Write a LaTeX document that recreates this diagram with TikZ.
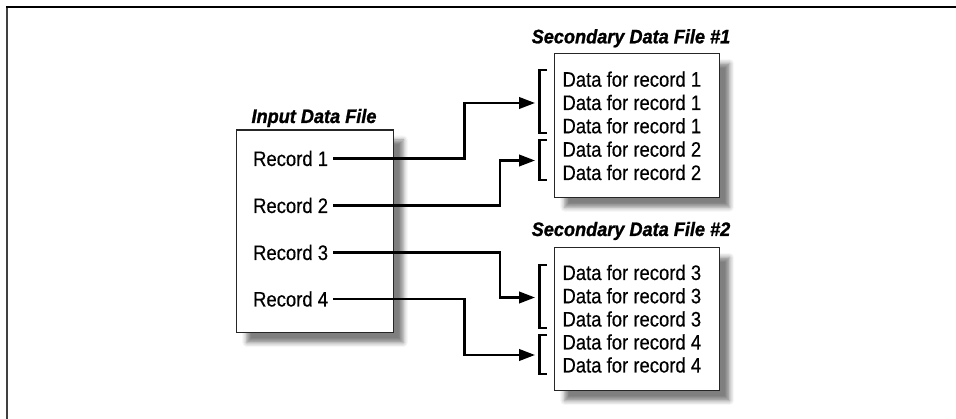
\documentclass[tikz,border=0pt]{standalone}
\usepackage{fontspec}
\setmainfont{Liberation Sans}
\newfontfamily\recfont[FakeStretch=0.88,FakeBold=0.4]{Liberation Sans}
\newfontfamily\ttlfont[FakeStretch=0.93,FakeBold=1.2]{Liberation Sans}
\usetikzlibrary{arrows.meta,shadows.blur}
\begin{document}
\begin{tikzpicture}[x=1pt,y=-1pt,
  filebox/.style={draw=black!85, line width=1.3pt, fill=white, inner sep=0pt, anchor=north west,
    blur shadow={shadow xshift=10pt, shadow yshift=-10pt, shadow blur radius=4.5pt, shadow opacity=50}},
  rectext/.style={font=\recfont\fontsize{21pt}{23pt}\selectfont, inner xsep=5pt, inner ysep=0pt, anchor=base east},
  datatext/.style={font=\recfont\fontsize{21pt}{23pt}\selectfont, inner sep=0pt, anchor=base west},
  ttltext/.style={font=\ttlfont\fontsize{19.5pt}{22pt}\selectfont\bfseries\itshape, inner sep=0pt, anchor=base},
  conn/.style={line width=2.4pt, -{Triangle[length=16pt,width=11.5pt]}},
  brk/.style={line width=2.4pt},
  frameline/.style={line width=2pt}]
\useasboundingbox (0,0) rectangle (956,419);
% frame
\draw[frameline, black!75] (7,419) -- (7,7);
\draw[frameline, black] (6,7) -- (956,7);
% boxes
\node[filebox, minimum width=156.7pt, minimum height=202.7pt] (inbox) at (236,129.3) {};
\node[filebox, minimum width=165pt, minimum height=144pt] (sec1) at (554,52.7) {};
\node[filebox, minimum width=165pt, minimum height=143.3pt] (sec2) at (554,246.7) {};
% titles
\node[ttltext] (t0) at (314,123) {Input Data File};
\node[ttltext] (t1) at (631,43.3) {Secondary Data File \#1};
\node[ttltext] (t2) at (631,236) {Secondary Data File \#2};
% records
\node[rectext] (r1) at (333.3,166) {Record 1};
\node[rectext] (r2) at (333.3,213) {Record 2};
\node[rectext] (r3) at (333.3,260) {Record 3};
\node[rectext] (r4) at (333.3,306.5) {Record 4};
% data lines
\node[datatext] (d11) at (562.3,86.7) {Data for record 1};
\node[datatext] (d12) at (562.3,110) {Data for record 1};
\node[datatext] (d13) at (562.3,133.3) {Data for record 1};
\node[datatext] (d14) at (562.3,156.7) {Data for record 2};
\node[datatext] (d15) at (562.3,180) {Data for record 2};
\node[datatext] (d21) at (562.3,280) {Data for record 3};
\node[datatext] (d22) at (562.3,303.3) {Data for record 3};
\node[datatext] (d23) at (562.3,326.5) {Data for record 3};
\node[datatext] (d24) at (562.3,349.5) {Data for record 4};
\node[datatext] (d25) at (562.3,372.5) {Data for record 4};
% brackets
\draw[brk] (547,70) -- (539.5,70) -- (539.5,133.3) -- (547,133.3);
\draw[brk] (547,140) -- (539.5,140) -- (539.5,180) -- (547,180);
\draw[brk] (547,265) -- (539.5,265) -- (539.5,328.3) -- (547,328.3);
\draw[brk] (547,335) -- (539.5,335) -- (539.5,374.3) -- (547,374.3);
% arrow targets
\coordinate (a1) at (535,103);
\coordinate (a2) at (535,160.5);
\coordinate (a3) at (535,297.5);
\coordinate (a4) at (535,355);
% connectors
\draw[conn] (r1.east) -- ++(131,0) |- (a1);
\draw[conn] (r2.east) -- ++(166.7,0) |- (a2);
\draw[conn] (r3.east) -- ++(166.7,0) |- (a3);
\draw[conn] (r4.east) -- ++(131,0) |- (a4);
\end{tikzpicture}
\end{document}
